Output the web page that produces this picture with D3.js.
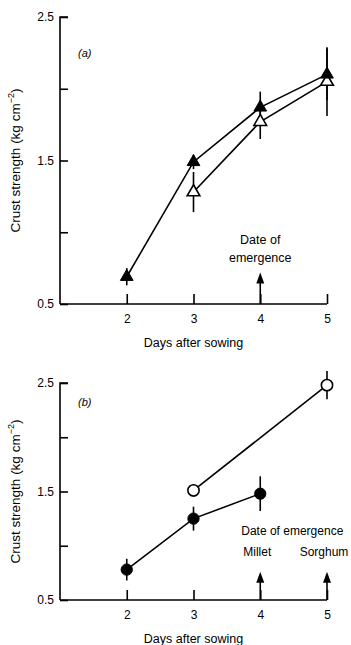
<!DOCTYPE html>
<html>
<head>
<meta charset="utf-8">
<script src="https://cdn.jsdelivr.net/npm/d3@7"></script>
<style>
  body { margin: 0; background: #fff; }
  svg { display: block; font-family: "Liberation Sans", Arial, sans-serif; }
  .axis path, .axis line { stroke: #000; stroke-width: 1.6; }
  .axis text { font-size: 12px; fill: #000; }
</style>
</head>
<body>
<script>
// panel (a): triangles
const aFilledDays = [2, 3, 4, 5];
const aFilled     = [0.69, 1.49, 1.87, 2.10];
const aFilledErr  = [0.06, 0.05, 0.11, 0.18];
const aOpenDays   = [3, 4, 5];
const aOpen       = [1.28, 1.77, 2.05];
const aOpenErr    = [0.14, 0.12, 0.24];
const aArrows     = [4];

// panel (b): circles
const bFilledDays = [2, 3, 4];
const bFilled     = [0.78, 1.25, 1.48];
const bFilledErr  = [0.10, 0.11, 0.16];
const bOpenDays   = [3, 5];
const bOpen       = [1.51, 2.48];
const bOpenErr    = [0.06, 0.13];
const bArrows     = [4, 5];
const bArrowLabels = ["Millet", "Sorghum"];

const xTicks = [2, 3, 4, 5];
const yTicks = [0.5, 1.0, 1.5, 2.0, 2.5];
const yLabelled = [0.5, 1.5, 2.5];

const W = 351, H = 645;
const svg = d3.select("body").append("svg").attr("width", W).attr("height", H);

function pts(days, vals, errs) {
  return days.map((d, i) => ({ d: d, v: vals[i], e: errs[i] }));
}

function panel(top, bottom, opt) {
  const g = svg.append("g");
  const x = d3.scaleLinear().domain([1, 5]).range([60, 327]);
  const y = d3.scaleLinear().domain([0.5, 2.5]).range([bottom, top]);

  g.append("g").attr("class", "axis")
    .attr("transform", `translate(60,0)`)
    .call(d3.axisLeft(y).tickValues(yTicks).tickSizeInner(-8).tickSizeOuter(0).tickPadding(6)
      .tickFormat(d => yLabelled.includes(d) ? d3.format(".1f")(d) : ""))
    .call(s => s.select(".domain").attr("d", `M8,${y(2.5)}H0V${y(0.5)}`));

  g.append("g").attr("class", "axis")
    .attr("transform", `translate(0,${bottom})`)
    .call(d3.axisBottom(x).tickValues(xTicks).tickSizeInner(-10).tickSizeOuter(0).tickPadding(10)
      .tickFormat(d3.format("d")))
    .call(s => s.select(".domain").attr("d", `M${x(1)},0H${x(5)}`));

  const yl = g.append("text")
    .attr("transform", `translate(16,${(top + bottom) / 2}) rotate(-90)`)
    .attr("text-anchor", "middle").attr("dominant-baseline", "middle")
    .attr("font-size", 13.5);
  yl.append("tspan").text("Crust strength (kg cm");
  yl.append("tspan").attr("dy", -4).attr("font-size", 9).text("−2");
  yl.append("tspan").attr("dy", 4).text(")");

  g.append("text")
    .attr("x", (x(1) + x(5)) / 2).attr("y", bottom + 43)
    .attr("text-anchor", "middle").attr("font-size", 12.5)
    .text("Days after sowing");

  g.append("text")
    .attr("x", 78).attr("y", top + opt.tagOffset)
    .attr("font-size", 11).attr("font-style", "italic")
    .text(opt.tag);

  const line = d3.line().x(p => x(p.d)).y(p => y(p.v));

  [opt.open, opt.filled].forEach(s => {
    g.selectAll(null).data(s).enter().append("line")
      .attr("x1", p => x(p.d)).attr("x2", p => x(p.d))
      .attr("y1", p => y(p.v - p.e)).attr("y2", p => y(p.v + p.e))
      .attr("stroke", "#000").attr("stroke-width", 1.6);
    g.append("path").datum(s).attr("d", line)
      .attr("fill", "none").attr("stroke", "#000").attr("stroke-width", 1.6);
  });

  const sym = d3.symbol().type(opt.shape).size(opt.size);
  g.selectAll(null).data(opt.open).enter().append("path")
    .attr("d", sym).attr("transform", p => `translate(${x(p.d)},${y(p.v)})`)
    .attr("fill", "#fff").attr("stroke", "#000").attr("stroke-width", 1.6);
  g.selectAll(null).data(opt.filled).enter().append("path")
    .attr("d", sym).attr("transform", p => `translate(${x(p.d)},${y(p.v)})`)
    .attr("fill", "#000").attr("stroke", "#000").attr("stroke-width", 1);

  // emergence arrows
  opt.arrows.forEach(d => {
    const tip = y(opt.arrowTop);
    g.append("line").attr("x1", x(d)).attr("x2", x(d))
      .attr("y1", bottom).attr("y2", tip + 6)
      .attr("stroke", "#000").attr("stroke-width", 1.6);
    g.append("path")
      .attr("d", `M${x(d)},${tip}L${x(d) - 4},${tip + 11}L${x(d) + 4},${tip + 11}Z`)
      .attr("fill", "#000");
  });
  return { g: g, x: x, y: y };
}

const pa = panel(17, 304, {
  tag: "(a)", tagOffset: 40, shape: d3.symbolTriangle, size: 70,
  filled: pts(aFilledDays, aFilled, aFilledErr),
  open: pts(aOpenDays, aOpen, aOpenErr),
  arrows: aArrows, arrowTop: 0.72
});
pa.g.append("text").attr("x", pa.x(4)).attr("y", pa.y(0.5) - 60)
  .attr("text-anchor", "middle").attr("font-size", 12.5).text("Date of");
pa.g.append("text").attr("x", pa.x(4)).attr("y", pa.y(0.5) - 42)
  .attr("text-anchor", "middle").attr("font-size", 12.5).text("emergence");

const pb = panel(383, 600, {
  tag: "(b)", tagOffset: 23, shape: d3.symbolCircle, size: 100,
  filled: pts(bFilledDays, bFilled, bFilledErr),
  open: pts(bOpenDays, bOpen, bOpenErr),
  arrows: bArrows, arrowTop: 0.76
});
pb.g.append("text").attr("x", pb.x(4) - 19).attr("y", pb.y(0.5) - 65)
  .attr("font-size", 12).text("Date of emergence");
pb.g.selectAll(null).data(bArrows).enter().append("text")
  .attr("x", d => pb.x(d) - 3).attr("y", pb.y(0.5) - 44)
  .attr("text-anchor", "middle").attr("font-size", 12)
  .text((d, i) => bArrowLabels[i]);
</script>
</body>
</html>
